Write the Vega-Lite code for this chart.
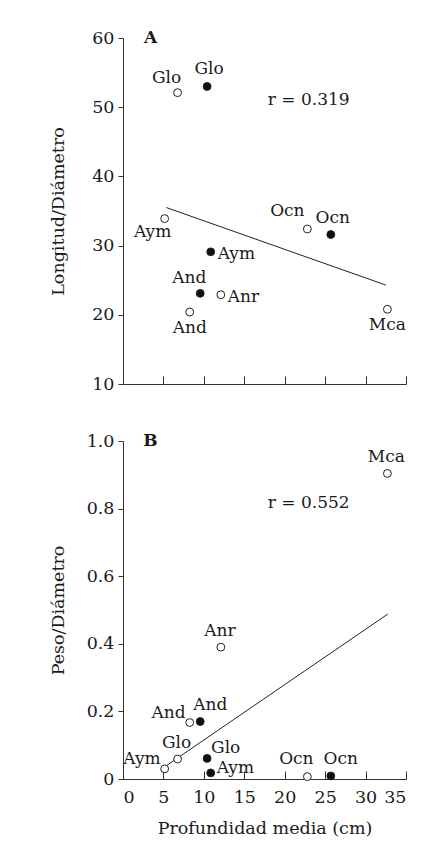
{
  "$schema": "https://vega.github.io/schema/vega-lite/v6.json",
  "padding": {"left": 49, "top": 29, "right": 5, "bottom": 5},
  "background": "white",
  "config": {
    "view": {"stroke": null},
    "font": "DejaVu Serif",
    "axis": {
      "domainColor": "#333", "tickColor": "#333", "labelColor": "#1a1a1a", "titleColor": "#1a1a1a",
      "labelFont": "DejaVu Serif", "titleFont": "DejaVu Serif",
      "labelFontSize": 17.5, "titleFontSize": 17.5, "titleFontWeight": "normal",
      "grid": false, "domainWidth": 1, "tickWidth": 1
    },
    "text": {"font": "DejaVu Serif", "fontSize": 17, "color": "#1a1a1a", "baseline": "middle"}
  },
  "datasets": {
    "puntos": [
      {"sp": "Glo", "simbolo": "abierto", "prof": 6.75, "ld": 52.1, "pd": 0.059},
      {"sp": "Glo", "simbolo": "lleno", "prof": 10.4, "ld": 53.0, "pd": 0.061},
      {"sp": "Aym", "simbolo": "abierto", "prof": 5.15, "ld": 33.9, "pd": 0.03},
      {"sp": "Aym", "simbolo": "lleno", "prof": 10.85, "ld": 29.1, "pd": 0.018},
      {"sp": "And", "simbolo": "abierto", "prof": 8.25, "ld": 20.4, "pd": 0.167},
      {"sp": "And", "simbolo": "lleno", "prof": 9.55, "ld": 23.1, "pd": 0.17},
      {"sp": "Anr", "simbolo": "abierto", "prof": 12.1, "ld": 22.9, "pd": 0.39},
      {"sp": "Ocn", "simbolo": "abierto", "prof": 22.8, "ld": 32.4, "pd": 0.007},
      {"sp": "Ocn", "simbolo": "lleno", "prof": 25.7, "ld": 31.6, "pd": 0.009},
      {"sp": "Mca", "simbolo": "abierto", "prof": 32.7, "ld": 20.8, "pd": 0.904}
    ],
    "recta": [
      {"panel": "A", "prof": 5.35, "valor": 35.5},
      {"panel": "A", "prof": 32.5, "valor": 24.3},
      {"panel": "B", "prof": 5.15, "valor": 0.036},
      {"panel": "B", "prof": 32.75, "valor": 0.488}
    ],
    "notas": [
      {"panel": "A", "texto": "r = 0.319", "prof": 17.9, "valor": 51.0},
      {"panel": "B", "texto": "r = 0.552", "prof": 17.9, "valor": 0.817}
    ],
    "letras": [
      {"panel": "A", "texto": "A", "prof": 3.4, "valor": 60},
      {"panel": "B", "texto": "B", "prof": 3.4, "valor": 1.0}
    ]
  },
  "spacing": 39,
  "vconcat": [
    {
      "width": 283,
      "height": 346,
      "encoding": {
        "x": {"field": "prof", "type": "quantitative",
          "scale": {"domain": [0, 35], "nice": false, "zero": false},
          "axis": {"title": null, "labels": false, "values": [0, 5, 10, 15, 20, 25, 30, 35], "tickSize": -8}}
      },
      "layer": [
        {
          "data": {"name": "recta"},
          "transform": [{"filter": "datum.panel == 'A'"}],
          "mark": {"type": "line", "color": "#222", "strokeWidth": 1},
          "encoding": {
            "y": {"field": "valor", "type": "quantitative",
              "scale": {"domain": [10, 60], "nice": false, "zero": false},
              "axis": {"title": "Longitud/Diámetro", "values": [10, 20, 30, 40, 50, 60], "tickSize": 5, "labelPadding": 4, "titleX": -65, "titleBaseline": "middle"}}
          }
        },
        {
          "data": {"name": "puntos"},
          "mark": {"type": "point", "shape": "circle", "size": 62, "strokeWidth": 1, "opacity": 1},
          "encoding": {
            "y": {"field": "ld", "type": "quantitative"},
            "fill": {"field": "simbolo", "type": "nominal", "scale": {"domain": ["abierto", "lleno"], "range": ["white", "#111"]}, "legend": null},
            "stroke": {"value": "#222"}
          }
        },
        {
          "data": {"name": "puntos"},
          "transform": [{"filter": "indexof(['Glo|abierto','And|lleno'], datum.sp + '|' + datum.simbolo) >= 0"}],
          "mark": {"type": "text", "align": "center", "dx": -11, "dy": -15},
          "encoding": {"y": {"field": "ld", "type": "quantitative"}, "text": {"field": "sp"}}
        },
        {
          "data": {"name": "puntos"},
          "transform": [{"filter": "indexof(['Ocn|abierto'], datum.sp + '|' + datum.simbolo) >= 0"}],
          "mark": {"type": "text", "align": "center", "dx": -20, "dy": -18},
          "encoding": {"y": {"field": "ld", "type": "quantitative"}, "text": {"field": "sp"}}
        },
        {
          "data": {"name": "puntos"},
          "transform": [{"filter": "indexof(['Glo|lleno','Ocn|lleno'], datum.sp + '|' + datum.simbolo) >= 0"}],
          "mark": {"type": "text", "align": "center", "dx": 2, "dy": -17},
          "encoding": {"y": {"field": "ld", "type": "quantitative"}, "text": {"field": "sp"}}
        },
        {
          "data": {"name": "puntos"},
          "transform": [{"filter": "indexof(['And|abierto','Mca|abierto'], datum.sp + '|' + datum.simbolo) >= 0"}],
          "mark": {"type": "text", "align": "center", "dx": 0, "dy": 16},
          "encoding": {"y": {"field": "ld", "type": "quantitative"}, "text": {"field": "sp"}}
        },
        {
          "data": {"name": "puntos"},
          "transform": [{"filter": "indexof(['Aym|abierto'], datum.sp + '|' + datum.simbolo) >= 0"}],
          "mark": {"type": "text", "align": "center", "dx": -12, "dy": 13},
          "encoding": {"y": {"field": "ld", "type": "quantitative"}, "text": {"field": "sp"}}
        },
        {
          "data": {"name": "puntos"},
          "transform": [{"filter": "indexof(['Aym|lleno','Anr|abierto'], datum.sp + '|' + datum.simbolo) >= 0"}],
          "mark": {"type": "text", "align": "left", "dx": 7, "dy": 2},
          "encoding": {"y": {"field": "ld", "type": "quantitative"}, "text": {"field": "sp"}}
        },
        {
          "data": {"name": "notas"},
          "transform": [{"filter": "datum.panel == 'A'"}],
          "mark": {"type": "text", "align": "left"},
          "encoding": {"y": {"field": "valor", "type": "quantitative"}, "text": {"field": "texto"}}
        },
        {
          "data": {"name": "letras"},
          "transform": [{"filter": "datum.panel == 'A'"}],
          "mark": {"type": "text", "align": "center", "fontWeight": "bold"},
          "encoding": {"y": {"field": "valor", "type": "quantitative"}, "text": {"field": "texto"}}
        }
      ]
    },
    {
      "width": 283,
      "height": 338,
      "encoding": {
        "x": {"field": "prof", "type": "quantitative",
          "scale": {"domain": [0, 35], "nice": false, "zero": false},
          "axis": {"title": "Profundidad media (cm)", "values": [0, 5, 10, 15, 20, 25, 30, 35], "tickSize": -8, "labelPadding": 17, "titlePadding": 14}}
      },
      "layer": [
        {
          "data": {"name": "recta"},
          "transform": [{"filter": "datum.panel == 'B'"}],
          "mark": {"type": "line", "color": "#222", "strokeWidth": 1},
          "encoding": {
            "y": {"field": "valor", "type": "quantitative",
              "scale": {"domain": [0, 1], "nice": false, "zero": false},
              "axis": {"title": "Peso/Diámetro", "values": [0, 0.2, 0.4, 0.6, 0.8, 1.0], "labelExpr": "datum.value == 0 ? '0' : format(datum.value, '.1f')", "tickSize": 5, "labelPadding": 4, "titleX": -65, "titleBaseline": "middle"}}
          }
        },
        {
          "data": {"name": "puntos"},
          "mark": {"type": "point", "shape": "circle", "size": 62, "strokeWidth": 1, "opacity": 1},
          "encoding": {
            "y": {"field": "pd", "type": "quantitative"},
            "fill": {"field": "simbolo", "type": "nominal", "scale": {"domain": ["abierto", "lleno"], "range": ["white", "#111"]}, "legend": null},
            "stroke": {"value": "#222"}
          }
        },
        {
          "data": {"name": "puntos"},
          "transform": [{"filter": "indexof(['Mca|abierto','Anr|abierto','Glo|abierto'], datum.sp + '|' + datum.simbolo) >= 0"}],
          "mark": {"type": "text", "align": "center", "dx": -1, "dy": -16},
          "encoding": {"y": {"field": "pd", "type": "quantitative"}, "text": {"field": "sp"}}
        },
        {
          "data": {"name": "puntos"},
          "transform": [{"filter": "indexof(['And|abierto','Aym|abierto'], datum.sp + '|' + datum.simbolo) >= 0"}],
          "mark": {"type": "text", "align": "right", "dx": -4, "dy": -10},
          "encoding": {"y": {"field": "pd", "type": "quantitative"}, "text": {"field": "sp"}}
        },
        {
          "data": {"name": "puntos"},
          "transform": [{"filter": "indexof(['And|lleno','Ocn|lleno'], datum.sp + '|' + datum.simbolo) >= 0"}],
          "mark": {"type": "text", "align": "center", "dx": 10, "dy": -17},
          "encoding": {"y": {"field": "pd", "type": "quantitative"}, "text": {"field": "sp"}}
        },
        {
          "data": {"name": "puntos"},
          "transform": [{"filter": "indexof(['Glo|lleno'], datum.sp + '|' + datum.simbolo) >= 0"}],
          "mark": {"type": "text", "align": "left", "dx": 4, "dy": -10},
          "encoding": {"y": {"field": "pd", "type": "quantitative"}, "text": {"field": "sp"}}
        },
        {
          "data": {"name": "puntos"},
          "transform": [{"filter": "indexof(['Aym|lleno'], datum.sp + '|' + datum.simbolo) >= 0"}],
          "mark": {"type": "text", "align": "left", "dx": 6, "dy": -5},
          "encoding": {"y": {"field": "pd", "type": "quantitative"}, "text": {"field": "sp"}}
        },
        {
          "data": {"name": "puntos"},
          "transform": [{"filter": "indexof(['Ocn|abierto'], datum.sp + '|' + datum.simbolo) >= 0"}],
          "mark": {"type": "text", "align": "center", "dx": -11, "dy": -18},
          "encoding": {"y": {"field": "pd", "type": "quantitative"}, "text": {"field": "sp"}}
        },
        {
          "data": {"name": "notas"},
          "transform": [{"filter": "datum.panel == 'B'"}],
          "mark": {"type": "text", "align": "left"},
          "encoding": {"y": {"field": "valor", "type": "quantitative"}, "text": {"field": "texto"}}
        },
        {
          "data": {"name": "letras"},
          "transform": [{"filter": "datum.panel == 'B'"}],
          "mark": {"type": "text", "align": "center", "fontWeight": "bold"},
          "encoding": {"y": {"field": "valor", "type": "quantitative"}, "text": {"field": "texto"}}
        }
      ]
    }
  ]
}
